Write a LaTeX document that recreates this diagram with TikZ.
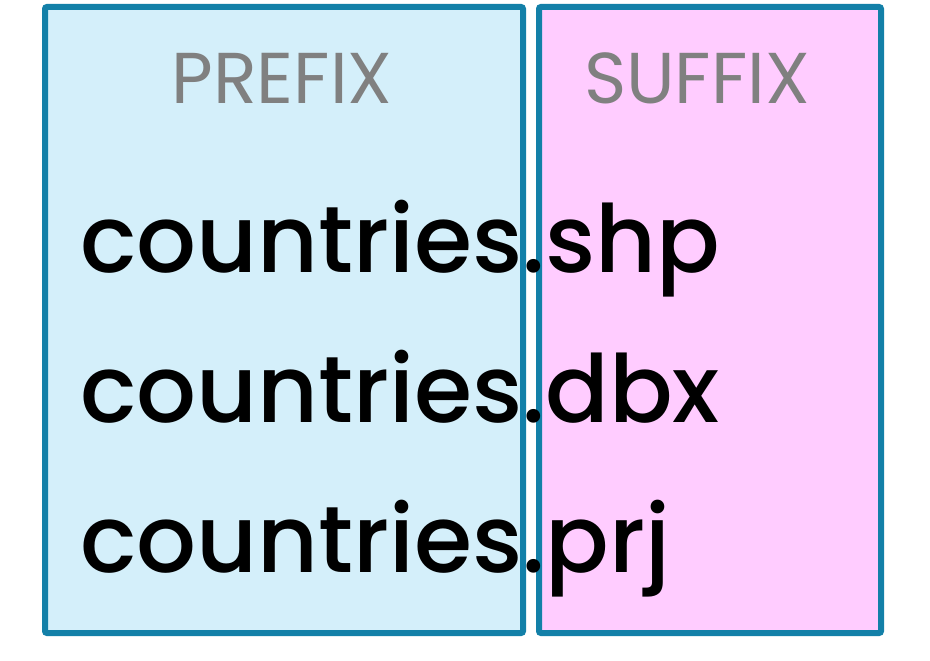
\documentclass[tikz,border=0pt]{standalone}
\usepackage{fontspec}
\setmainfont{Poppins}
\newfontfamily\namefont{Poppins Medium}
\definecolor{boxteal}{RGB}{19, 128, 168}
\definecolor{prefixblue}{RGB}{212, 239, 250}
\definecolor{suffixpink}{RGB}{255, 204, 255}
\definecolor{labelgray}{RGB}{128, 128, 128}
\usetikzlibrary{positioning}

\tikzset{
  partbox/.style={draw=boxteal, line width=6pt, rounded corners=2pt},
  partlabel/.style={text=labelgray, font=\fontsize{72}{72}\selectfont, anchor=base},
  filename/.style={font=\namefont\fontsize{94}{94}\selectfont, anchor=base west, inner sep=0pt}
}

\begin{document}
\begin{tikzpicture}[x=1pt, y=-1pt]
  \useasboundingbox (0,0) rectangle (930,661);

  \draw[partbox, fill=prefixblue] (45,7) rectangle (523,633);
  \draw[partbox, fill=suffixpink] (539,7) rectangle (881,633);

  \node[partlabel] (prefix) at (282,103) {PREFIX};
  \node[partlabel] (suffix) at (697,103) {SUFFIX};

  \node[filename] (shp) at (80,272) {countries.shp};
  \node[filename] (dbx) at (80,422) {countries.dbx};
  \node[filename] (prj) at (80,572) {countries.prj};
\end{tikzpicture}
\end{document}
